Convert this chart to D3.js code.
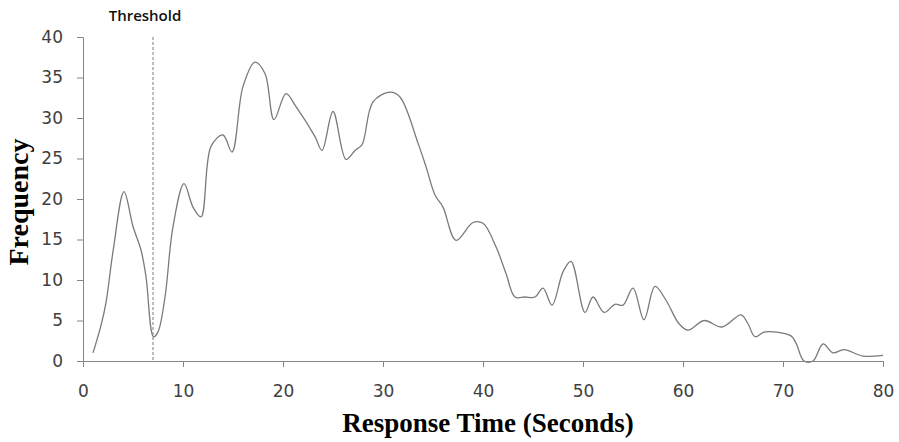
<!DOCTYPE html>
<html>
<head>
<meta charset="utf-8">
<script src="https://cdn.jsdelivr.net/npm/d3@7"></script>
<style>
  body { margin: 0; background: #fff; }
  .tick text { font-family: "DejaVu Sans", sans-serif; font-size: 17px; fill: #404040; }
  .axis path, .axis line { stroke: #868686; }
</style>
</head>
<body>
<div id="chart"></div>
<script>
// response time (seconds) and frequency
var times = [1, 1.8, 2.3, 3, 4.1, 5, 5.8, 6.3, 7.05, 7.5, 8.2, 9, 10.1, 11, 11.8, 12.8, 14, 14.9, 16, 17.2,
  18.2, 19.1, 20.3, 21.3, 23.2, 23.9, 25, 26.3, 27.2, 27.9, 29, 30.7, 31.7, 33.5, 34.3, 35.2, 36, 37.3, 39, 40,
  41.3, 42.3, 43.2, 44.2, 45.2, 46, 46.9, 48, 48.8, 50.2, 51, 52.1, 53.2, 54, 55, 56.1, 57.2, 58.3, 59.6, 60.5,
  62.1, 63.9, 65.8, 66.5, 67.2, 68.2, 70.8, 71.3, 72.1, 73, 74, 75, 76.1, 78, 80];
var freq = [1, 4.4, 7.2, 13.5, 20.9, 16.6, 13.7, 10.4, 3.0, 3.6, 7.9, 16.6, 21.9, 19, 17.8, 26.5, 27.9, 25.8, 33.9, 36.9,
  35.5, 29.8, 33.0, 31.4, 27.7, 26.0, 30.8, 24.9, 26.0, 26.7, 32.0, 33.2, 32.6, 26.9, 24.0, 20.5, 19, 14.9, 17.1, 17.0,
  14.1, 10.8, 7.9, 7.9, 7.9, 9.0, 6.9, 11.0, 12.3, 6.0, 7.9, 6.0, 7.0, 6.9, 9.0, 5.1, 9.2, 7.5, 4.6, 3.8,
  5.0, 4.2, 5.7, 4.6, 3.0, 3.6, 3.1, 2.2, 0, 0, 2.1, 1.0, 1.4, 0.6, 0.7];
var xTicks = [0, 10, 20, 30, 40, 50, 60, 70, 80];
var yTicks = [0, 5, 10, 15, 20, 25, 30, 35, 40];
var threshold = 7;

var w = 899, h = 442;
var margin = {top: 37, left: 83, right: 16, bottom: 81};
var iw = w - margin.left - margin.right;
var ih = h - margin.top - margin.bottom;

var svg = d3.select("#chart").append("svg")
  .attr("width", w)
  .attr("height", h);
var g = svg.append("g")
  .attr("transform", "translate(" + margin.left + "," + margin.top + ")");

var x = d3.scaleLinear().domain([0, 80]).range([0, iw]);
var y = d3.scaleLinear().domain([0, 40]).range([ih, 0]);

// axes
g.append("g")
  .attr("class", "axis")
  .attr("transform", "translate(0," + ih + ")")
  .call(d3.axisBottom(x).tickValues(xTicks).tickSizeOuter(0).tickSize(6).tickPadding(18));
g.append("g")
  .attr("class", "axis")
  .call(d3.axisLeft(y).tickValues(yTicks).tickSizeOuter(0).tickSize(6).tickPadding(14));

// threshold marker
g.append("line")
  .attr("x1", x(threshold)).attr("x2", x(threshold))
  .attr("y1", y(40)).attr("y2", y(0))
  .attr("stroke", "#7a7a7a")
  .attr("stroke-width", 1)
  .attr("stroke-dasharray", "3,2");
g.append("text")
  .attr("x", x(threshold) - 8)
  .attr("y", -16)
  .attr("text-anchor", "middle")
  .style("font-family", "'Open Sans', sans-serif")
  .style("font-weight", "600")
  .style("font-size", "15px")
  .style("fill", "#111")
  .text("Threshold");

// the curve
var pts = times.map(function(t, i) { return [t, freq[i]]; });
var line = d3.line()
  .x(function(d) { return x(d[0]); })
  .y(function(d) { return Math.min(y(d[1]), ih); })
  .curve(d3.curveCatmullRom.alpha(0.5));
g.append("path")
  .datum(pts)
  .attr("d", line)
  .attr("fill", "none")
  .attr("stroke", "#7a7a7a")
  .attr("stroke-width", 1.3);

// axis titles
svg.append("text")
  .attr("x", 488)
  .attr("y", 432)
  .attr("text-anchor", "middle")
  .style("font-family", "'Liberation Serif', 'Times New Roman', serif")
  .style("font-weight", "bold")
  .style("font-size", "27px")
  .text("Response Time (Seconds)");
svg.append("text")
  .attr("transform", "translate(28,202) rotate(-90)")
  .attr("text-anchor", "middle")
  .style("font-family", "'Liberation Serif', 'Times New Roman', serif")
  .style("font-weight", "bold")
  .style("font-size", "28px")
  .text("Frequency");
</script>
</body>
</html>
